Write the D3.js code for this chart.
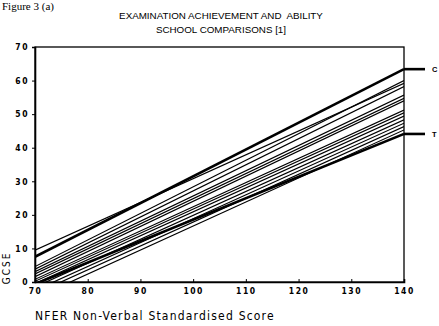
<!DOCTYPE html>
<html>
<head>
<meta charset="utf-8">
<script src="https://cdn.jsdelivr.net/npm/d3@7"></script>
<style>
  body { margin: 0; background: #fff; overflow: hidden; }
  text { fill: #000; }
</style>
</head>
<body>
<div id="chart"></div>
<script>
// school regression lines: GCSE at NFER 70 and at NFER 140
const schoolStart = [9.5, 4.6, 3.8, 3.1, 2.4, 1.6, 0.8, 0.2, -0.5, -1.5, -2.5, -3.5, -4.8]
const schoolEnd = [59.2, 60.0, 58.2, 55.7, 54.7, 54.0, 51.2, 50.4, 49.4, 48.3, 47.3, 46.3, 45.3]
const highlightNames = ['C', 'T']
const highlightStart = [7.5, -0.6]
const highlightEnd = [63.4, 44.1]
const xTicks = [70, 80, 90, 100, 110, 120, 130, 140]
const yTicks = [0, 10, 20, 30, 40, 50, 60, 70]

const canvasWidth = 439
const canvasHeight = 326
const margins = {top: 47, right: 35, bottom: 44, left: 35}
const width = canvasWidth - margins.left - margins.right
const height = canvasHeight - margins.top - margins.bottom

const xScale = d3.scaleLinear().domain([70, 140]).range([0, width])
const yScale = d3.scaleLinear().domain([0, 70]).range([height, 0])

const root = d3
  .select('#chart')
  .append('svg')
  .attr('width', canvasWidth)
  .attr('height', canvasHeight)

root
  .append('text')
  .attr('x', 2)
  .attr('y', 10)
  .attr('font-family', 'Liberation Serif')
  .attr('font-size', 11)
  .text('Figure 3 (a)')

const titleLines = ['EXAMINATION ACHIEVEMENT AND  ABILITY', 'SCHOOL COMPARISONS [1]']
root
  .selectAll('text.title')
  .data(titleLines)
  .enter()
  .append('text')
  .attr('class', 'title')
  .attr('x', 221)
  .attr('y', (d, i) => 18.5 + i * 14)
  .attr('font-family', 'Liberation Sans')
  .attr('font-size', 9.8)
  .attr('text-anchor', 'middle')
  .style('white-space', 'pre')
  .text(d => d)

const svg = root
  .append('g')
  .attr('transform', `translate(${margins.left}, ${margins.top})`)

svg
  .append('defs')
  .append('clipPath')
  .attr('id', 'plot-clip')
  .append('rect')
  .attr('width', width)
  .attr('height', height)

const lineData = schoolStart
  .map((s, i) => ({start: s, end: schoolEnd[i], thick: false}))
  .concat(highlightStart.map((s, i) => ({start: s, end: highlightEnd[i], thick: true, name: highlightNames[i]})))

svg
  .append('g')
  .attr('clip-path', 'url(#plot-clip)')
  .selectAll('line')
  .data(lineData)
  .enter()
  .append('line')
  .attr('x1', xScale(70))
  .attr('y1', d => yScale(d.start))
  .attr('x2', xScale(140))
  .attr('y2', d => yScale(d.end))
  .attr('stroke', '#000')
  .attr('stroke-width', d => (d.thick ? 2.6 : 1.2))

// frame
svg
  .append('rect')
  .attr('width', width)
  .attr('height', height)
  .attr('fill', 'none')
  .attr('stroke', '#000')
  .attr('stroke-width', 1.3)

const yAxis = d3.axisLeft(yScale).tickValues(yTicks).tickSize(3).tickPadding(3)
const yG = svg.append('g').call(yAxis)
yG.select('.domain').attr('stroke-width', 1.6)
yG.selectAll('text')
  .attr('font-family', 'DejaVu Sans Condensed')
  .attr('font-size', 8.5)
  .attr('font-weight', 'bold')
  .attr('letter-spacing', 1.5)

const xAxis = d3.axisBottom(xScale).tickValues(xTicks).tickSize(-3).tickPadding(6)
const xG = svg.append('g').attr('transform', `translate(0, ${height})`).call(xAxis)
xG.select('.domain').attr('stroke-width', 1.6)
xG.selectAll('text')
  .attr('font-family', 'DejaVu Sans Condensed')
  .attr('font-size', 8.5)
  .attr('font-weight', 'bold')
  .attr('letter-spacing', 1.5)

// C / T markers
const markers = svg
  .selectAll('g.marker')
  .data(lineData.filter(d => d.thick))
  .enter()
  .append('g')
  .attr('class', 'marker')
  .attr('transform', d => `translate(${width}, ${yScale(d.end)})`)
markers
  .append('line')
  .attr('x1', 0)
  .attr('x2', 21)
  .attr('stroke', '#000')
  .attr('stroke-width', 2.6)
markers
  .append('text')
  .attr('x', 28)
  .attr('y', 3)
  .attr('font-family', 'Liberation Sans')
  .attr('font-size', 7.5)
  .attr('font-weight', 'bold')
  .text(d => d.name)

svg
  .append('text')
  .attr('transform', `translate(-25, ${height - 14}) rotate(-90)`)
  .attr('font-family', 'DejaVu Sans Condensed')
  .attr('font-size', 10)
  .attr('letter-spacing', 2)
  .style('text-anchor', 'middle')
  .text('GCSE')

svg
  .append('text')
  .attr('x', 0)
  .attr('y', height + 38)
  .attr('font-family', 'DejaVu Sans Condensed')
  .attr('font-size', 12)
  .attr('letter-spacing', 1.2)
  .text('NFER Non-Verbal Standardised Score')
</script>
</body>
</html>
